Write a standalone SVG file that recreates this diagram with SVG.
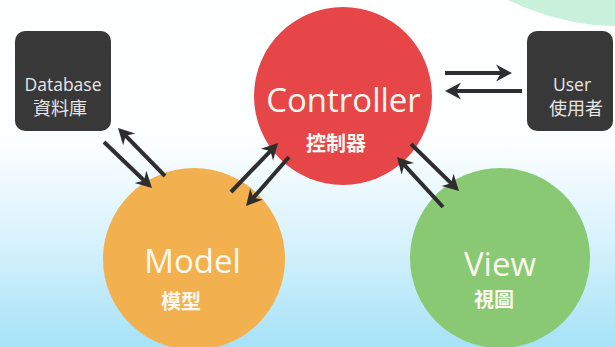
<svg xmlns="http://www.w3.org/2000/svg" width="615" height="347" viewBox="0 0 615 347">
  <defs>
    <linearGradient id="bg" x1="0" y1="0" x2="0" y2="1">
      <stop offset="0" stop-color="#ffffff"/>
      <stop offset="0.42" stop-color="#fbfeff"/>
      <stop offset="0.7" stop-color="#d6f2fc"/>
      <stop offset="1" stop-color="#a6e2f7"/>
    </linearGradient>
    <marker id="ah" viewBox="-1 -10 20 20" refX="8" refY="0" markerWidth="20" markerHeight="20" markerUnits="userSpaceOnUse" orient="auto">
      <path d="M0,-8.5 L16,0 L0,8.5 L5,0 Z" fill="#2e2e2e"/>
    </marker>
    <style>
      .box { fill: #383838; }
      .boxtxt { fill: #e6e6e6; font-family: "Open Sans", "Noto Sans CJK TC", sans-serif; font-size: 17.5px; text-anchor: middle; }
      .cjk { font-family: "Noto Sans CJK TC", sans-serif; font-size: 18px; }
      .big { fill: #fdf8ee; font-family: "Open Sans", "Noto Sans", sans-serif; font-size: 33px; text-anchor: middle; }
      .sub { fill: #fdf8ee; font-family: "Noto Sans CJK TC", sans-serif; font-size: 20px; font-weight: 700; text-anchor: middle; }
      .arr { stroke: #2e2e2e; stroke-width: 4; fill: none; marker-end: url(#ah); }
    </style>
  </defs>

  <rect width="615" height="347" fill="url(#bg)"/>
  <circle cx="620" cy="-227" r="253" fill="#c8f0db"/>

  <g id="database">
    <rect class="box" x="15" y="31" width="96" height="100" rx="10"/>
    <text class="boxtxt" x="63" y="91">Database</text>
    <text class="boxtxt cjk" x="60" y="115">資料庫</text>
  </g>

  <g id="user">
    <rect class="box" x="527" y="31" width="86" height="100" rx="10"/>
    <text class="boxtxt" x="572" y="91">User</text>
    <text class="boxtxt cjk" x="576" y="115">使用者</text>
  </g>

  <g id="controller">
    <circle cx="343" cy="96" r="89" fill="#e64648"/>
    <text class="big" x="343.5" y="112">Controller</text>
    <text class="sub" x="336" y="151">控制器</text>
  </g>

  <g id="model">
    <circle cx="194" cy="259" r="91" fill="#f2b04e"/>
    <text class="big" x="192.5" y="273">Model</text>
    <text class="sub" x="181" y="309">模型</text>
  </g>

  <g id="view">
    <circle cx="500" cy="258" r="90" fill="#89c974"/>
    <text class="big" x="500" y="276">View</text>
    <text class="sub" x="494" y="307">視圖</text>
  </g>

  <g id="connectors">
    <line class="arr" x1="104" y1="142" x2="146.2" y2="182.5"/>
    <line class="arr" x1="165" y1="176" x2="123.6" y2="133.7"/>
    <line class="arr" x1="231" y1="192" x2="272.5" y2="148.8"/>
    <line class="arr" x1="289" y1="157" x2="251.3" y2="200"/>
    <line class="arr" x1="411" y1="144" x2="453.3" y2="185.4"/>
    <line class="arr" x1="443" y1="207" x2="402.4" y2="162.9"/>
    <line class="arr" x1="445" y1="73" x2="504" y2="73"/>
    <line class="arr" x1="522" y1="91" x2="453" y2="91"/>
  </g>
</svg>
